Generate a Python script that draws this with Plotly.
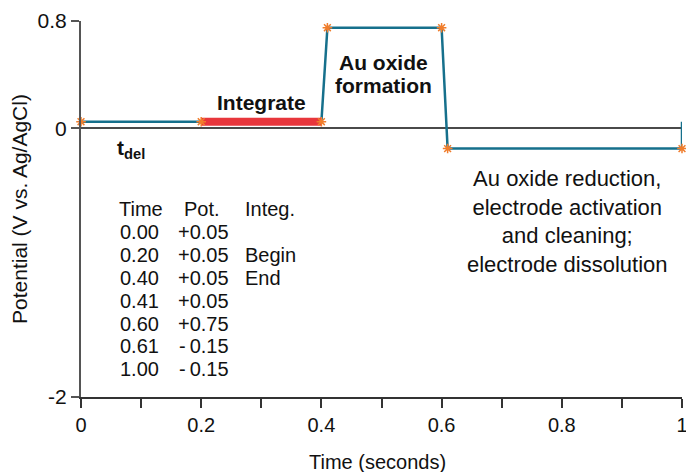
import plotly.graph_objects as go

# ---- data: plotted waveform ----
times = [0.00, 0.20, 0.40, 0.41, 0.60, 0.61, 1.00]
pots = [0.05, 0.05, 0.05, 0.75, 0.75, -0.15, -0.15]
integ_start, integ_end = 1, 2

# ---- data: table printed on the chart (as shown in the reference) ----
table_times = [0.00, 0.20, 0.40, 0.41, 0.60, 0.61, 1.00]
table_pots = [0.05, 0.05, 0.05, 0.05, 0.75, -0.15, -0.15]
table_integ = ["", "Begin", "End", "", "", "", ""]
table_header = ["Time", "Pot.", "Integ."]

x_ticks = [0, 0.1, 0.2, 0.3, 0.4, 0.5, 0.6, 0.7, 0.8, 0.9, 1.0]
x_ticklabels = ["0", "", "0.2", "", "0.4", "", "0.6", "", "0.8", "", "1"]
y_ticks = [-2, 0, 0.8]
y_ticklabels = ["-2", "0", "0.8"]

FONT = "Liberation Sans, Arial, Helvetica, sans-serif"
TXT = "#111111"
TEAL = "#16708c"
ORANGE = "#f07d2c"
RED = "#e8363c"

W, H = 686, 472
L, R, T, B = 81, 4, 21, 75
PW, PH = W - L - R, H - T - B


def px(x):
    return (x - L) / PW


def py(y):
    return (H - B - y) / PH


fig = go.Figure()

# main waveform line (returns to the initial potential at the end)
fig.add_trace(go.Scatter(
    x=times + [times[-1]], y=pots + [pots[0]], mode="lines",
    line=dict(color=TEAL, width=2.5), cliponaxis=False, hoverinfo="skip",
    showlegend=False))

# integration window
fig.add_trace(go.Scatter(
    x=times[integ_start:integ_end + 1], y=pots[integ_start:integ_end + 1],
    mode="lines", line=dict(color=RED, width=8), cliponaxis=False,
    showlegend=False))

# markers
fig.add_trace(go.Scatter(
    x=times, y=pots, mode="markers",
    marker=dict(symbol="asterisk-open", size=8, color=ORANGE,
                line=dict(color=ORANGE, width=1.5)),
    cliponaxis=False, showlegend=False))

ann = []


def A(text, x, y, size=20, xanchor="center", bold=False, **kw):
    if bold:
        text = "<b>" + text + "</b>"
    ann.append(dict(text=text, x=px(x), y=py(y), xref="paper", yref="paper",
                    xanchor=xanchor, yanchor="middle", showarrow=False,
                    font=dict(family=FONT, size=size, color=TXT), **kw))


A("Integrate", 261, 102, size=21, bold=True)
A("Au oxide", 383, 62, size=21, bold=True)
A("formation", 383, 85, size=21, bold=True)
A("t<sub>del</sub>", 131, 149, size=21, bold=True)
A("Au oxide reduction,<br>electrode activation<br>and cleaning;<br>electrode dissolution",
  567, 222, size=22)

# table
row0, dy = 209, 22.9
A(table_header[0], 117, row0, xanchor="left")
A(table_header[1], 182, row0, xanchor="left")
A(table_header[2], 243, row0, xanchor="left")
for i, (t, p, s) in enumerate(zip(table_times, table_pots, table_integ)):
    yy = row0 + dy * (i + 1)
    A(f"{t:.2f}", 118, yy, xanchor="left")
    A(f"{p:+.2f}".replace("-", "-\u2009"), 231, yy, xanchor="right")
    if s:
        A(s, 243, yy, xanchor="left")

# axis titles
A("Time (seconds)", 377, 462, size=20)
A("Potential (V vs. Ag/AgCl)", 19, (T + H - B) / 2, size=21, textangle=-90)

fig.update_layout(
    width=W, height=H, margin=dict(l=L, r=R, t=T, b=B, autoexpand=False),
    paper_bgcolor="white", plot_bgcolor="white",
    annotations=ann, showlegend=False,
    xaxis=dict(range=[0, 1], tickvals=x_ticks, ticktext=x_ticklabels,
               automargin=False,
               showgrid=False, zeroline=False, showline=True,
               linecolor="#333333", linewidth=1.5, ticks="outside",
               ticklen=9, tickwidth=1.5, tickcolor="#333333",
               ticklabeloverflow="allow",
               tickfont=dict(family=FONT, size=20, color=TXT)),
    yaxis=dict(range=[-2, 0.8], tickvals=y_ticks, ticktext=y_ticklabels,
               automargin=False,
               showgrid=False, zeroline=True, zerolinecolor="#4a4a4a",
               zerolinewidth=2, showline=True, linecolor="#555555",
               linewidth=2, ticks="outside", ticklen=8, tickwidth=1.5,
               tickcolor="#555555",
               tickfont=dict(family=FONT, size=21, color=TXT)),
)

fig.write_html("out.html")
